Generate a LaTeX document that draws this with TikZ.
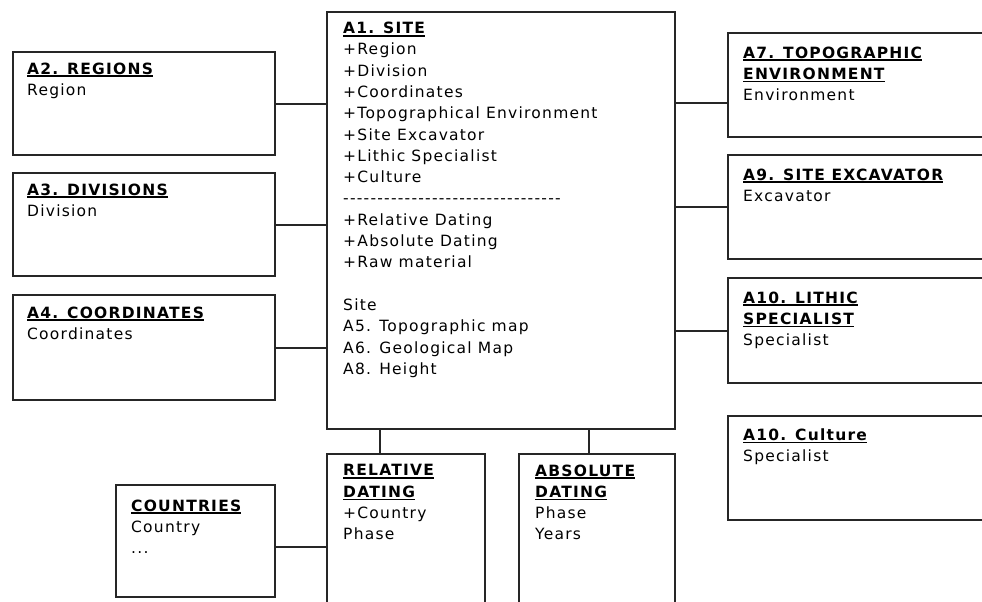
\documentclass[tikz,border=0pt]{standalone}
\usepackage{fontspec}
\setmainfont{DejaVu Sans}[LetterSpace=8]
\newcommand\uttl[1]{\leavevmode\vtop{\hbox{\bfseries #1}\kern1.2pt\hrule height 1.6pt}}
\newcommand\hyrow{{-}{-}{-}{-}{-}{-}{-}{-}{-}{-}{-}{-}{-}{-}{-}{-}{-}{-}{-}{-}{-}{-}{-}{-}{-}{-}{-}{-}{-}{-}{-}{-}}
\begin{document}
\begin{tikzpicture}[x=1pt,y=-1pt,
  box/.style={draw=black!85, line width=1.9pt, fill=white, inner sep=0pt, outer sep=0pt, anchor=north west},
  txt/.style={anchor=north west, inner sep=0pt, align=left, font=\fontsize{15.5}{21.3}\selectfont},
  link/.style={draw=black!85, line width=2pt}]
\useasboundingbox (0,0) rectangle (982,602);
\clip (0,0) rectangle (982,602);
\fill[white] (0,0) rectangle (982,602);
% helper coordinates for connector heights / positions
\coordinate (y7) at (0,103);
\coordinate (ycn) at (0,547);
\coordinate (xrel) at (380,0);
\coordinate (xabs) at (589,0);
% boxes
\node[box, minimum width=348pt, minimum height=417pt] (A1) at (327,12) {};
\node[box, minimum width=262pt, minimum height=103pt] (A2) at (13,52) {};
\node[box, minimum width=262pt, minimum height=103pt] (A3) at (13,173) {};
\node[box, minimum width=262pt, minimum height=105pt] (A4) at (13,295) {};
\node[box, minimum width=270pt, minimum height=104pt] (A7) at (728,33) {};
\node[box, minimum width=270pt, minimum height=104pt] (A9) at (728,155) {};
\node[box, minimum width=270pt, minimum height=105pt] (A10) at (728,278) {};
\node[box, minimum width=270pt, minimum height=104pt] (A10c) at (728,416) {};
\node[box, minimum width=158pt, minimum height=170pt] (REL) at (327,454) {};
\node[box, minimum width=156pt, minimum height=170pt] (ABS) at (519,454) {};
\node[box, minimum width=159pt, minimum height=112pt] (CN) at (116,485) {};
% connectors
\draw[link] (A2.east) -- (A2.east -| A1.west);
\draw[link] (A3.east) -- (A3.east -| A1.west);
\draw[link] (A4.east) -- (A4.east -| A1.west);
\draw[link] (A1.east |- y7) -- (A7.west |- y7);
\draw[link] (A1.east |- A9.west) -- (A9.west);
\draw[link] (A1.east |- A10.west) -- (A10.west);
\draw[link] (A1.south -| xrel) -- (REL.north -| xrel);
\draw[link] (A1.south -| xabs) -- (ABS.north -| xabs);
\draw[link] (CN.east |- ycn) -- (REL.west |- ycn);
% texts
\node[txt] (A1t) at (343,21.8) {\uttl{A1. SITE}\\+Region\\+Division\\+Coordinates\\+Topographical Environment\\+Site Excavator\\+Lithic Specialist\\+Culture\\\hyrow\\+Relative Dating\\+Absolute Dating\\+Raw material\\[21.3pt]Site\\A5. Topographic map\\A6. Geological Map\\A8. Height};
\node[txt] (A2t) at (27,62.3) {\uttl{A2. REGIONS}\\Region};
\node[txt] (A3t) at (27,183.3) {\uttl{A3. DIVISIONS}\\Division};
\node[txt] (A4t) at (27,306.3) {\uttl{A4. COORDINATES}\\Coordinates};
\node[txt] (A7t) at (743,46.3) {\uttl{A7. TOPOGRAPHIC}\\\uttl{ENVIRONMENT}\\Environment};
\node[txt] (A9t) at (743,168.3) {\uttl{A9. SITE EXCAVATOR}\\Excavator};
\node[txt] (A10t) at (743,291.3) {\uttl{A10. LITHIC}\\\uttl{SPECIALIST}\\Specialist};
\node[txt] (A10ct) at (743,428.3) {\uttl{A10. Culture}\\Specialist};
\node[txt] (RELt) at (343,464.3) {\uttl{RELATIVE}\\\uttl{DATING}\\+Country\\Phase};
\node[txt] (ABSt) at (535,464.3) {\uttl{ABSOLUTE}\\\uttl{DATING}\\Phase\\Years};
\node[txt] (CNt) at (131,499.3) {\uttl{COUNTRIES}\\Country\\...};
\end{tikzpicture}
\end{document}
